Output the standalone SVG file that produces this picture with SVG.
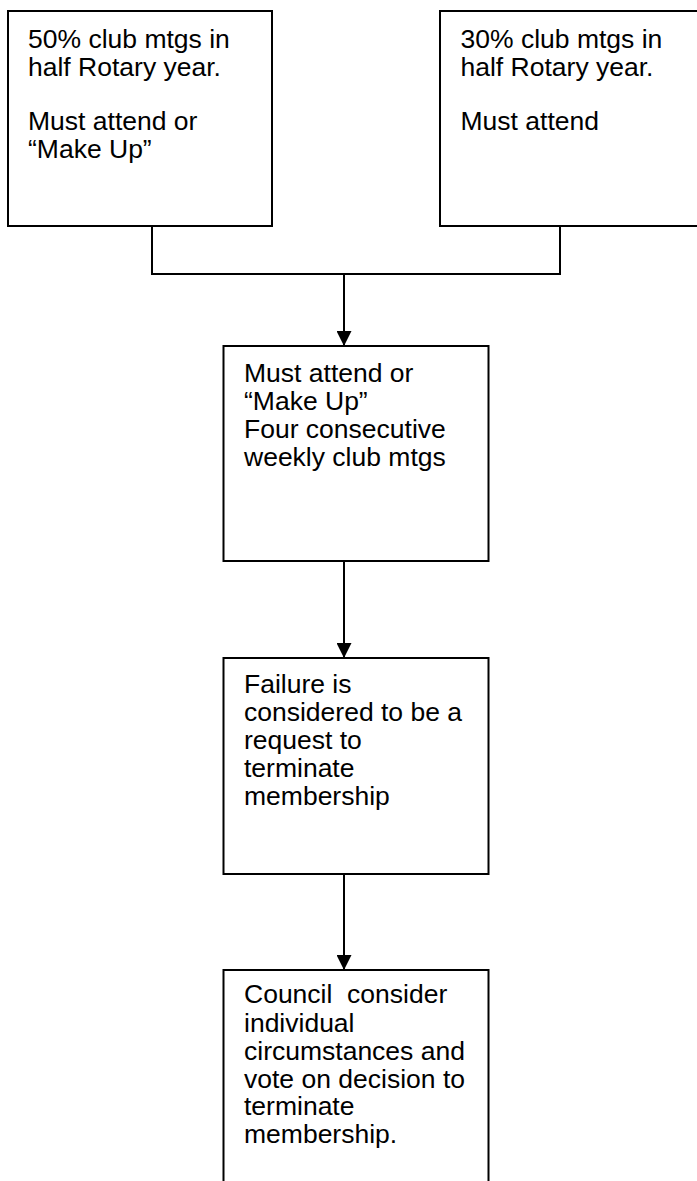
<svg xmlns="http://www.w3.org/2000/svg" width="697" height="1181" viewBox="0 0 697 1181">
<style>
.box{fill:#fff;stroke:#000;stroke-width:2}
.t{font-family:"Liberation Sans",Arial,sans-serif;font-size:26.5px;fill:#000;white-space:pre}
.c{fill:none;stroke:#000;stroke-width:2}
</style>
<defs>
<marker id="ah" viewBox="0 0 15 15" refX="15" refY="7.5" markerWidth="15" markerHeight="15" markerUnits="userSpaceOnUse" orient="auto">
<path d="M0,0 L15,7.5 L0,15 Z" fill="#000"/>
</marker>
</defs>
<rect width="697" height="1181" fill="#fff"/>
<g id="connectors">
<polyline class="c" points="152,226 152,274 560,274 560,226"/>
<line class="c" x1="344" y1="274" x2="344" y2="346" marker-end="url(#ah)"/>
<line class="c" x1="344" y1="561" x2="344" y2="658" marker-end="url(#ah)"/>
<line class="c" x1="344" y1="874" x2="344" y2="970" marker-end="url(#ah)"/>
</g>
<g id="node1">
<rect class="box" x="8" y="11" width="264" height="215"/>
<text class="t" x="28" y="47.7">50% club mtgs in</text>
<text class="t" x="28" y="75.5">half Rotary year.</text>
<text class="t" x="28" y="130">Must attend or</text>
<text class="t" x="28" y="157.7">“Make Up”</text>
</g>
<g id="node2">
<rect class="box" x="440" y="11" width="270" height="215"/>
<text class="t" x="460.5" y="47.7">30% club mtgs in</text>
<text class="t" x="460.5" y="75.5">half Rotary year.</text>
<text class="t" x="460.5" y="130">Must attend</text>
</g>
<g id="node3">
<rect class="box" x="223.5" y="346" width="265" height="215"/>
<text class="t" x="244" y="382.3">Must attend or</text>
<text class="t" x="244" y="410.3">“Make Up”</text>
<text class="t" x="244" y="438.3">Four consecutive</text>
<text class="t" x="244" y="466.3">weekly club mtgs</text>
</g>
<g id="node4">
<rect class="box" x="223.5" y="658" width="265" height="216"/>
<text class="t" x="244" y="693.3">Failure is</text>
<text class="t" x="244" y="721.3">considered to be a</text>
<text class="t" x="244" y="749.3">request to</text>
<text class="t" x="244" y="777.3">terminate</text>
<text class="t" x="244" y="805.3">membership</text>
</g>
<g id="node5">
<rect class="box" x="223.5" y="970" width="265" height="230"/>
<text class="t" x="244" y="1003.3" xml:space="preserve">Council  consider</text>
<text class="t" x="244" y="1031.5">individual</text>
<text class="t" x="244" y="1059.7">circumstances and</text>
<text class="t" x="244" y="1087.5">vote on decision to</text>
<text class="t" x="244" y="1115.3">terminate</text>
<text class="t" x="244" y="1143.3">membership.</text>
</g>
</svg>
